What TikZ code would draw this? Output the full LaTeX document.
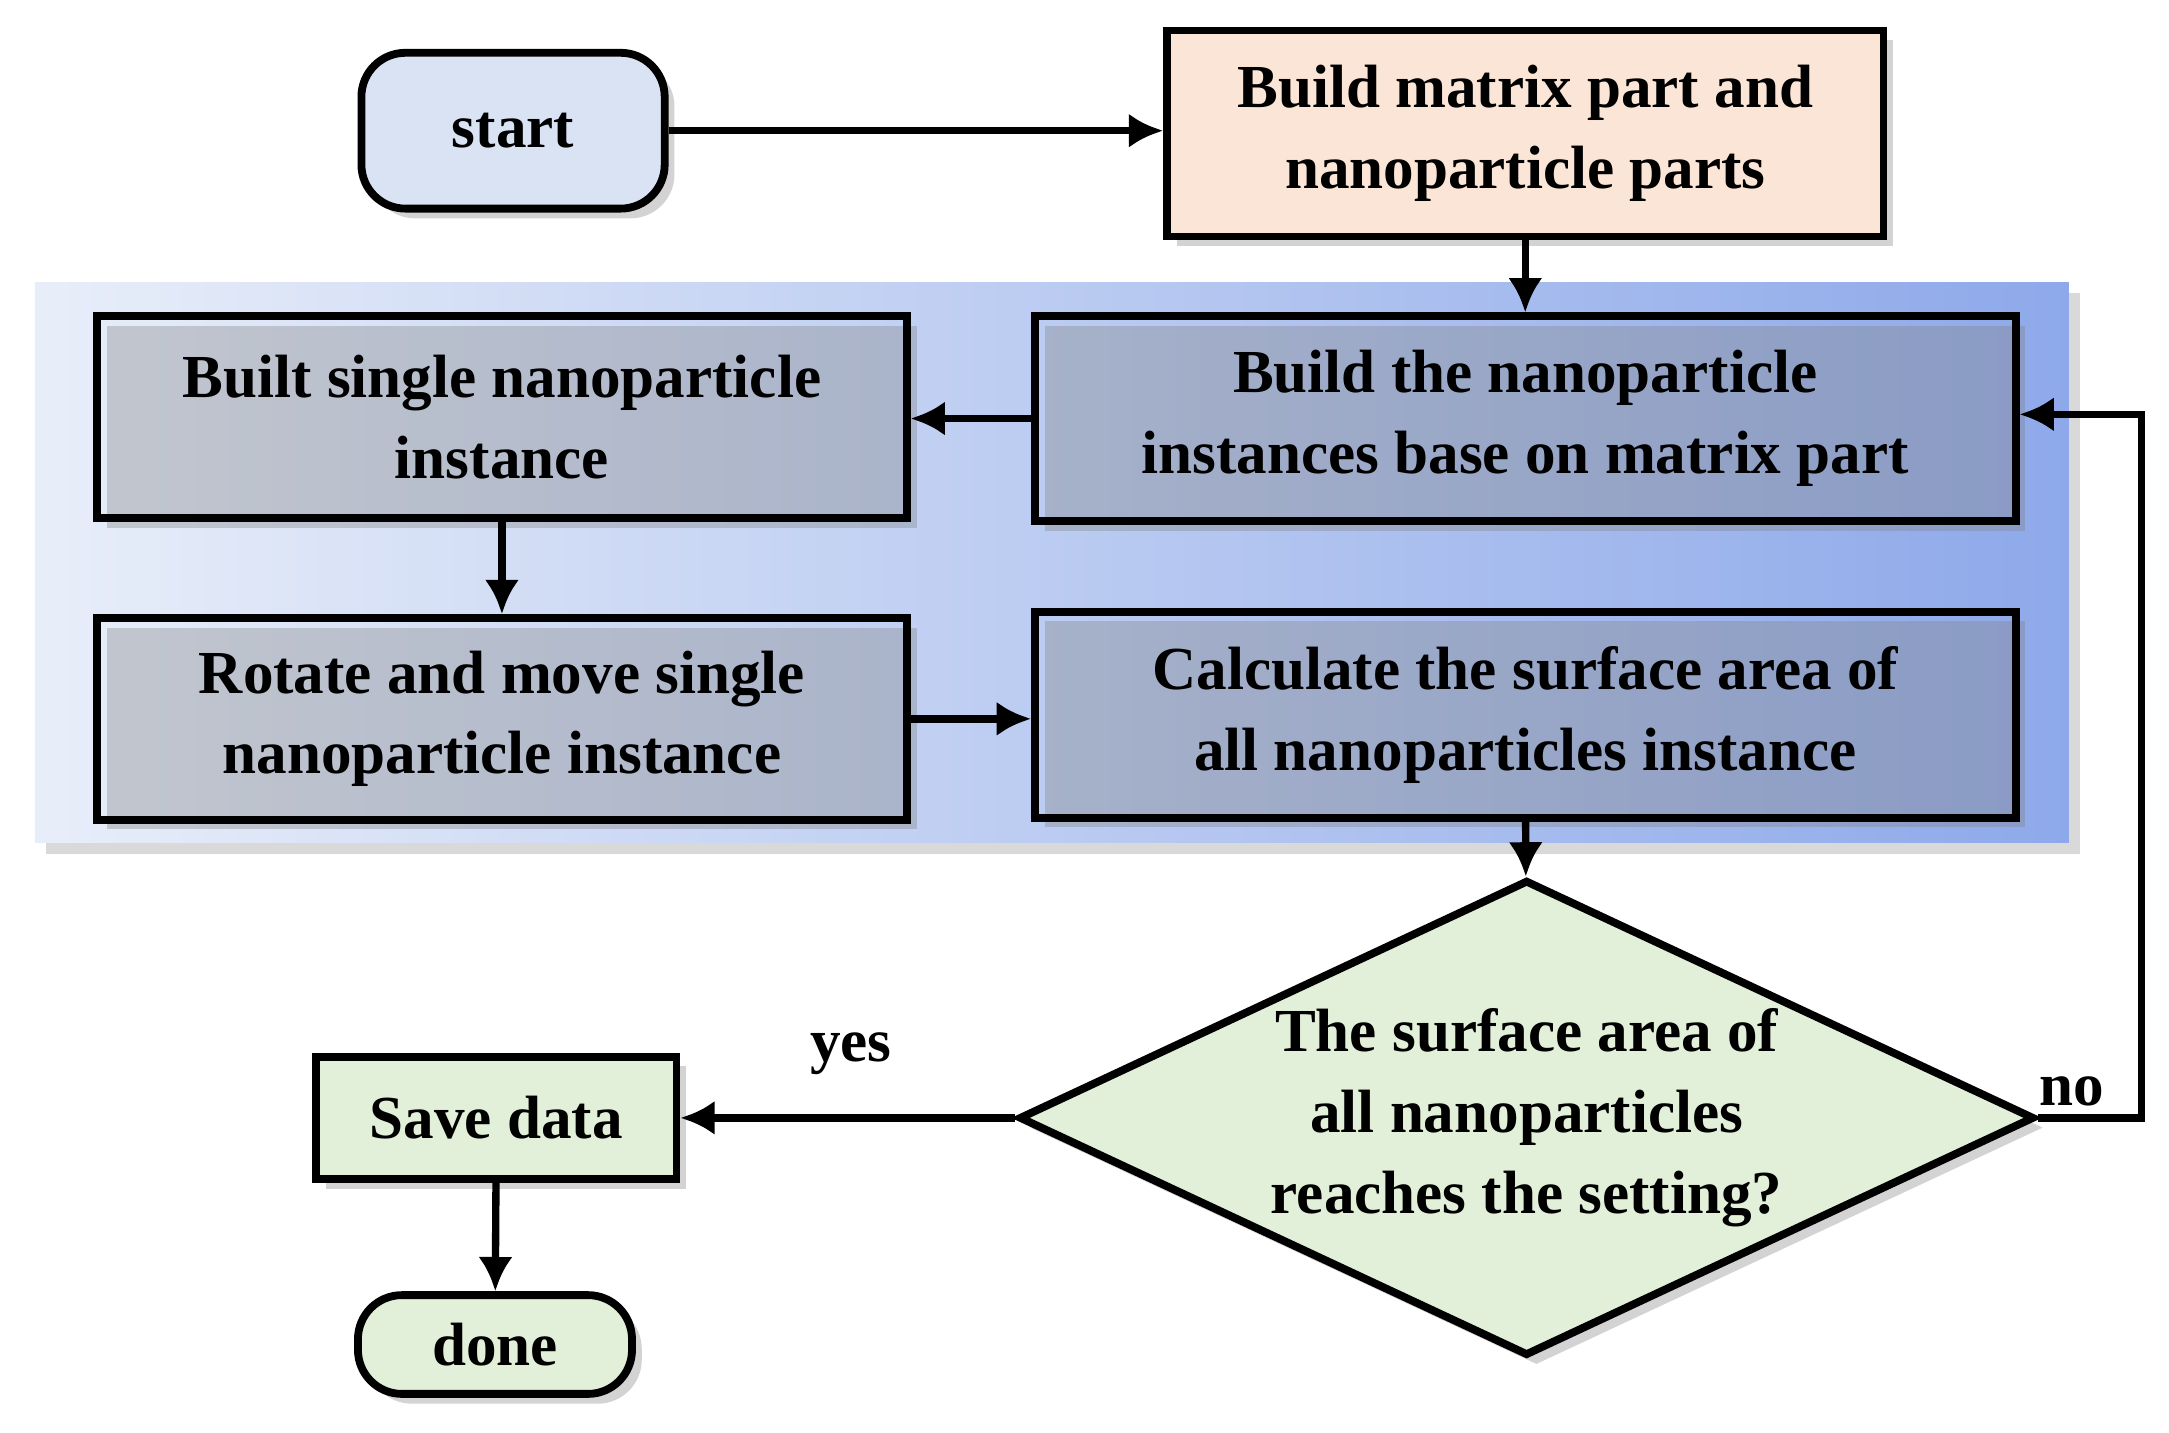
\documentclass[tikz,border=0pt]{standalone}
\usepackage{fontspec}
\setmainfont{Liberation Serif}
\usetikzlibrary{shapes.geometric,arrows.meta,shadows}
\definecolor{lb}{HTML}{DAE3F3}
\definecolor{pe}{HTML}{FBE5D6}
\definecolor{gr}{HTML}{E2F0D9}
\definecolor{pl}{HTML}{E8EEF9}
\definecolor{pr}{HTML}{8EA9EA}
\begin{document}
\begin{tikzpicture}[x=0.01cm,y=-0.01cm,
  txt/.style={font=\fontsize{12.5}{16.5}\selectfont\bfseries,align=center},
  box/.style={txt,draw=black,line width=1.6pt,rectangle,drop shadow={opacity=0.35,shadow xshift=2pt,shadow yshift=-2pt}},
  arr/.style={-{Latex[length=7pt,width=7pt]},line width=1.5pt}]
\useasboundingbox (0,0) rectangle (1560,1030);
\fill[left color=pl,right color=pr,drop shadow={opacity=0.3}] (25,203) rectangle (1488,606);
\node[box,rounded corners=9pt,fill=lb,minimum width=218\pgflinewidth*0+2.18cm,minimum height=1.12cm] (s) at (369,94) {start};
\node[box,fill=pe,minimum width=5.15cm,minimum height=1.48cm] (m) at (1097,96) {Build matrix part and\\nanoparticle parts};
\node[box,fill=none,minimum width=5.82cm,minimum height=1.45cm] (b1) at (361,300) {Built single nanoparticle\\instance};
\node[box,fill=none,minimum width=7.05cm,minimum height=1.47cm] (bi) at (1097,301) {Build the nanoparticle\\instances base on matrix part};
\node[box,fill=none,minimum width=5.82cm,minimum height=1.45cm] (r) at (361,517) {Rotate and move single\\nanoparticle instance};
\node[box,fill=none,minimum width=7.05cm,minimum height=1.48cm] (c) at (1097,514) {Calculate the surface area of\\all nanoparticles instance};
\node[txt,diamond,draw=black,line width=1.6pt,fill=gr,aspect=2.13,inner sep=-3pt,minimum width=7.3cm,minimum height=3.42cm,drop shadow={opacity=0.35,shadow xshift=2pt,shadow yshift=-2pt}] (d) at (1098,804) {The surface area of\\all nanoparticles\\reaches the setting?};
\node[box,fill=gr,minimum width=2.59cm,minimum height=0.88cm] (sv) at (357,804) {Save data};
\node[box,rounded corners=9pt,fill=gr,minimum width=1.97cm,minimum height=0.71cm] (dn) at (356,967) {done};
\node[txt] at (612,758) {yes};
\node[txt] at (1490,785) {no};
\coordinate (k1) at (1540,804);
\coordinate (k2) at (1540,298);
\draw[arr] (s.east) -- (m.west |- s.east);
\draw[arr] (m) -- (bi);
\draw[arr] (bi.west) -- (b1.east |- bi.west);
\draw[arr] (b1) -- (r);
\draw[arr] (r.east) -- (c.west |- r.east);
\draw[arr] (c) -- (d);
\draw[arr] (d.west) -- (sv.east);
\draw[arr] (sv) -- (dn);
\draw[arr] (d.east) -- (k1) -- (k2) -- (bi.east |- k2);
\end{tikzpicture}
\end{document}
